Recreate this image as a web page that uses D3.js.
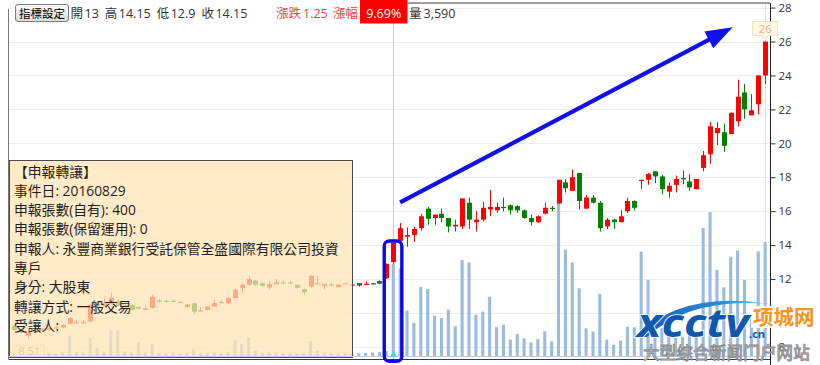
<!DOCTYPE html>
<html>
<head>
<meta charset="utf-8">
<script src="https://cdn.jsdelivr.net/npm/d3@7"></script>
<style>
  body { margin: 0; background: #fff; }
  svg { display: block; }
  text { font-family: "Open Sans", "Noto Sans CJK TC", sans-serif; }
</style>
</head>
<body>
<div id="chart"></div>
<script>
// Data (daily candles, event day = index 55)
const opens = [9.25, 9.0, 8.65, 8.9, 8.98, 9.0, 9.1, 9.15, 9.35, 9.4, 9.4, 9.5, 10.5, 10.4, 10.55, 10.67, 10.45, 10.48, 10.35, 10.18,
  10.3, 10.75, 10.72, 10.72, 10.63, 10.35, 10.58, 10.1, 10.18, 10.38, 10.65, 10.58, 10.88, 11.47, 11.66, 11.9, 11.76, 11.5, 11.7, 11.8,
  11.8, 11.66, 11.41, 11.56, 11.7, 11.6, 11.68, 11.52, 11.7, 11.62, 11.76, 11.7, 11.75, 11.88, 12.05, 13.0, 14.25, 14.5, 14.6, 15.0,
  16.15, 15.6, 15.85, 15.6, 15.1, 15.1, 16.5, 15.35, 15.5, 16.1, 16.05, 16.25, 16.35, 16.3, 16.05, 15.6, 15.35, 15.85, 16.2, 16.45,
  17.7, 17.2, 18.25, 16.15, 16.8, 16.5, 15.1, 15.5, 15.35, 16.0, 16.6, 17.8, 17.85, 18.35, 18.05, 17.15, 17.55, 17.95, 17.75, 17.3,
  18.55, 19.35, 20.6, 20.65, 20.55, 21.3, 23.0, 21.65, 22.3, 24.0]
const highs = [9.3, 9.02, 8.9, 9.05, 9.1, 9.15, 9.2, 9.35, 9.75, 9.6, 9.6, 10.5, 10.7, 10.9, 11.2, 10.8, 10.5, 10.5, 10.4, 10.45,
  11.05, 10.85, 10.8, 10.8, 10.7, 10.55, 10.6, 10.35, 10.4, 10.75, 10.75, 10.9, 11.4, 11.75, 12.15, 11.95, 11.8, 11.85, 12.0, 11.9,
  11.9, 11.7, 11.45, 12.2, 12.2, 11.72, 11.75, 11.7, 11.8, 11.7, 11.76, 11.85, 11.76, 11.92, 12.9, 14.15, 15.3, 15.05, 15.1, 15.85,
  16.25, 15.8, 16.15, 15.6, 15.5, 16.75, 16.8, 16.0, 16.55, 17.25, 16.5, 16.8, 16.4, 16.35, 16.1, 15.8, 15.75, 16.5, 16.3, 17.85,
  17.9, 18.45, 18.25, 16.95, 16.95, 16.6, 15.6, 15.55, 16.05, 16.8, 16.65, 17.85, 18.25, 18.35, 18.15, 17.7, 18.1, 18.4, 18.2, 17.9,
  19.55, 21.25, 21.25, 21.15, 21.8, 23.75, 23.5, 22.9, 24.0, 26.0]
const lows = [8.95, 8.8, 8.51, 8.85, 8.95, 8.95, 9.05, 9.1, 9.3, 9.4, 9.4, 9.45, 10.35, 10.35, 10.5, 10.4, 10.35, 10.15, 10.2, 10.18,
  10.25, 10.6, 10.6, 10.62, 10.6, 10.3, 9.95, 10.1, 10.15, 10.35, 10.55, 10.55, 10.85, 11.2, 11.6, 11.6, 11.55, 11.4, 11.7, 11.7,
  11.7, 11.45, 11.05, 11.5, 11.7, 11.4, 11.55, 11.5, 11.7, 11.6, 11.55, 11.7, 11.7, 11.7, 12.0, 12.9, 13.95, 13.9, 14.2, 14.85,
  15.2, 15.2, 15.35, 14.75, 14.8, 14.95, 14.95, 14.8, 15.4, 15.7, 15.9, 16.0, 15.8, 15.9, 15.55, 15.15, 15.3, 15.8, 16.0, 16.45,
  17.1, 17.2, 16.1, 16.15, 16.45, 14.8, 14.95, 14.95, 15.35, 15.9, 16.05, 17.3, 17.55, 17.65, 17.0, 16.8, 17.1, 17.6, 17.2, 17.28,
  18.35, 18.8, 19.9, 19.5, 20.55, 21.0, 21.45, 21.65, 21.7, 23.5]
const closes = [9.0, 8.85, 8.85, 9.0, 9.03, 9.1, 9.15, 9.3, 9.7, 9.45, 9.45, 10.48, 10.4, 10.6, 10.9, 10.42, 10.4, 10.18, 10.25, 10.28,
  10.95, 10.72, 10.7, 10.7, 10.66, 10.5, 10.08, 10.15, 10.38, 10.58, 10.6, 10.88, 11.37, 11.66, 12.0, 11.66, 11.6, 11.7, 11.8, 11.77,
  11.77, 11.47, 11.21, 12.2, 11.75, 11.7, 11.65, 11.66, 11.75, 11.68, 11.62, 11.72, 11.72, 11.73, 12.9, 14.15, 15.0, 14.6, 14.95, 15.7,
  15.55, 15.8, 15.6, 15.1, 15.2, 16.75, 15.5, 15.5, 16.2, 16.25, 16.25, 16.2, 16.05, 16.05, 15.6, 15.35, 15.7, 16.2, 16.15, 17.85,
  17.35, 18.0, 16.6, 16.8, 16.5, 15.0, 15.5, 15.35, 15.7, 16.6, 16.2, 17.85, 18.2, 18.05, 17.3, 17.5, 17.9, 17.9, 17.4, 17.9,
  19.3, 21.0, 20.9, 19.85, 21.8, 22.75, 22.0, 21.95, 24.0, 26.0]
const volumes = [130, 100, 150, 120, 110, 130, 100, 150, 780, 160, 140, 700, 310, 150, 1010, 990, 170, 140, 530, 130,
  470, 120, 110, 130, 100, 120, 270, 110, 120, 140, 110, 150, 620, 470, 740, 210, 120, 150, 130, 110,
  120, 100, 130, 590, 210, 120, 100, 110, 130, 100, 110, 120, 130, 150, 200, 3590, 3420, 1770, 1290, 2700,
  2610, 1570, 1480, 1810, 1160, 3750, 3650, 1610, 1730, 2310, 1120, 1220, 640, 860, 690, 530, 660, 960, 570, 6000,
  4150, 3650, 2640, 1080, 960, 2420, 640, 440, 600, 1140, 1120, 4070, 2970, 900, 1100, 800, 700, 750, 800, 900,
  4990, 5610, 3360, 2680, 3870, 4110, 2970, 1500, 4080, 4440]

const eventIndex = 55
const yTicks = [8, 10, 12, 14, 16, 18, 20, 22, 24, 26, 28]

const buttonLabel = '指標設定'
const quotePairs = [['開', '13'], ['高', '14.15'], ['低', '12.9'], ['收', '14.15']]
const changeLabel = ['漲跌', '1.25']
const pctLabel = ['漲幅', '9.69%']
const volLabel = ['量', '3,590']

const infoLines = [
  '【申報轉讓】',
  '事件日: 20160829',
  '申報張數(自有): 400',
  '申報張數(保留運用): 0',
  '申報人: 永豐商業銀行受託保管全盛國際有限公司投資',
  '專戶',
  '身分: 大股東',
  '轉讓方式: 一般交易',
  '受讓人:',
]

// Dimensions
const width = 820
const height = 365
const plot = { left: 8.5, top: 3, right: 770, bottom: 359 }

const RED = '#ff0000'
const GREEN = '#008000'

const svg = d3.select('#chart')
  .append('svg')
  .attr('width', width)
  .attr('height', height)
const defs = svg.append('defs')

svg.append('rect').attr('width', width).attr('height', height).attr('fill', '#fff')

// Scales
const idx = d3.range(opens.length)
const xScale = d3.scaleBand()
  .domain(idx)
  .range([11, 768.6])
  .paddingInner(0.28)
  .paddingOuter(0.14)
const cx = (i) => xScale(i) + xScale.bandwidth() / 2

const yScale = d3.scaleLinear().domain([8, 28]).range([346.9, 7.6])
const volScale = d3.scaleLinear().domain([0, 6000]).range([356, 202.2])

// Grid
svg.append('g')
  .selectAll('line')
  .data(yTicks)
  .join('line')
  .attr('x1', plot.left).attr('x2', plot.right)
  .attr('y1', (d) => Math.round(yScale(d)) + 0.5)
  .attr('y2', (d) => Math.round(yScale(d)) + 0.5)
  .attr('stroke', '#ededed')

// Crosshair on event day and marker line on the last day
const ex = Math.round(cx(eventIndex)) + 0.5
svg.append('line')
  .attr('x1', ex).attr('x2', ex)
  .attr('y1', plot.top).attr('y2', plot.bottom)
  .attr('stroke', '#c3c3ee')
const last = opens.length - 1
svg.append('line')
  .attr('x1', Math.round(cx(last)) + 0.5).attr('x2', Math.round(cx(last)) + 0.5)
  .attr('y1', plot.top).attr('y2', plot.bottom)
  .attr('stroke', '#e2e2e2')

// Volume
const vw = xScale.bandwidth() * 0.62
svg.append('g')
  .selectAll('rect')
  .data(idx)
  .join('rect')
  .attr('x', (i) => cx(i) - vw / 2)
  .attr('y', (i) => volScale(volumes[i]))
  .attr('width', vw)
  .attr('height', (i) => volScale(0) - volScale(volumes[i]))
  .attr('fill', '#9bbbdc')

// Candles
const candleColor = (i) => {
  if (closes[i] > opens[i]) return RED
  if (closes[i] < opens[i]) return GREEN
  return i > 0 && closes[i] < closes[i - 1] ? GREEN : RED
}
const candles = svg.append('g')
  .selectAll('g')
  .data(idx)
  .join('g')
candles.append('line')
  .attr('x1', (i) => Math.round(cx(i)) + 0.5)
  .attr('x2', (i) => Math.round(cx(i)) + 0.5)
  .attr('y1', (i) => yScale(highs[i]))
  .attr('y2', (i) => yScale(lows[i]))
  .attr('stroke', candleColor)
candles.append('rect')
  .attr('x', (i) => Math.round(cx(i)) + 0.5 - xScale.bandwidth() / 2)
  .attr('y', (i) => yScale(Math.max(opens[i], closes[i])))
  .attr('width', xScale.bandwidth())
  .attr('height', (i) => Math.max(1.2, Math.abs(yScale(opens[i]) - yScale(closes[i]))))
  .attr('fill', candleColor)

// Low label (sits under the info box)
const lowIdx = d3.minIndex(lows)
const lowG = svg.append('g')
  .attr('transform', `translate(${cx(lowIdx) + 1},${yScale(lows[lowIdx]) + 7})`)
lowG.append('rect')
  .attr('x', -15).attr('y', 0).attr('width', 30).attr('height', 11)
  .attr('fill', '#ffffe6').attr('stroke', '#ddd6b0')
lowG.append('text')
  .attr('x', 0).attr('y', 9.5)
  .attr('text-anchor', 'middle')
  .attr('font-size', 11)
  .attr('fill', '#6d8db0')
  .text(d3.format('.2f')(lows[lowIdx]))

// Info box
const box = svg.append('g')
box.append('rect')
  .attr('x', 9.5).attr('y', 160.5)
  .attr('width', 343).attr('height', 197)
  .attr('fill', '#ffe4b5').attr('fill-opacity', 0.74)
  .attr('stroke', '#4a4a4a')
box.selectAll('text')
  .data(infoLines)
  .join('text')
  .attr('x', 14)
  .attr('y', (d, i) => 176.5 + i * 19.3)
  .attr('font-size', 13.8)
  .attr('fill', '#1e1e1e')
  .text((d) => d)

// Plot frame
const frame = svg.append('g').attr('stroke', '#3a3a3a').attr('fill', 'none')
frame.append('line').attr('x1', plot.left).attr('x2', plot.right).attr('y1', plot.top).attr('y2', plot.top)
frame.append('line').attr('x1', plot.left).attr('x2', plot.left).attr('y1', plot.top).attr('y2', plot.bottom).attr('stroke', '#777')
frame.append('line').attr('x1', plot.left).attr('x2', plot.right).attr('y1', plot.bottom + 0.5).attr('y2', plot.bottom + 0.5)
svg.append('line')
  .attr('x1', plot.left).attr('x2', plot.right)
  .attr('y1', 356.5).attr('y2', 356.5)
  .attr('stroke', '#c9c9ef')

// Right axis
const yAxis = d3.axisRight(yScale).tickValues(yTicks).tickSize(5).tickPadding(3)
const axisG = svg.append('g')
  .attr('transform', `translate(${plot.right + 0.5},0)`)
  .call(yAxis)
axisG.select('.domain').remove()
axisG.selectAll('.tick line').attr('stroke', '#333')
axisG.selectAll('.tick text')
  .attr('font-size', 11.5)
  .attr('fill', '#333')
  .attr('font-family', '"Open Sans", sans-serif')
svg.append('line')
  .attr('x1', plot.right + 0.5).attr('x2', plot.right + 0.5)
  .attr('y1', plot.top).attr('y2', height)
  .attr('stroke', '#222')

// Event marker at bottom
svg.append('path')
  .attr('d', `M${ex - 3.5},357 L${ex},351 L${ex + 3.5},357 Z`)
  .attr('fill', '#3fd6f2')

// High label
const highIdx = d3.maxIndex(highs)
const hy = yScale(highs[highIdx])
const hx = cx(highIdx)
const hiG = svg.append('g').attr('transform', `translate(${hx},${hy})`)
hiG.append('path')
  .attr('d', 'M-12.5,-20 H12.5 V-6 H3 L0,-2 L-3,-6 H-12.5 Z')
  .attr('fill', '#fffbe1').attr('stroke', '#ece3bd')
hiG.append('text')
  .attr('x', 0).attr('y', -9)
  .attr('text-anchor', 'middle')
  .attr('font-size', 11.5)
  .attr('fill', '#f5a3a3')
  .text(highs[highIdx])

// Highlight around event candle
svg.append('rect')
  .attr('x', cx(eventIndex) - 9)
  .attr('y', yScale(highs[eventIndex]) - 1.5)
  .attr('width', 17.6)
  .attr('height', 361.3 - (yScale(highs[eventIndex]) - 1.5))
  .attr('rx', 5)
  .attr('fill', 'none')
  .attr('stroke', '#0a0ae8')
  .attr('stroke-width', 3.4)

// Trend arrow
const a0 = [cx(eventIndex + 1), yScale(16.52)]
const a1 = [cx(104) + 2, yScale(26.84)]
const ang = Math.atan2(a1[1] - a0[1], a1[0] - a0[0])
const headLen = 27
const headHalf = 9.5
const base = [a1[0] - headLen * Math.cos(ang), a1[1] - headLen * Math.sin(ang)]
svg.append('line')
  .attr('x1', a0[0]).attr('y1', a0[1])
  .attr('x2', base[0] + 3 * Math.cos(ang)).attr('y2', base[1] + 3 * Math.sin(ang))
  .attr('stroke', '#1010ea')
  .attr('stroke-width', 4.2)
svg.append('path')
  .attr('d', `M${a1[0]},${a1[1]}
    L${base[0] + headHalf * Math.sin(ang)},${base[1] - headHalf * Math.cos(ang)}
    L${base[0] - headHalf * Math.sin(ang)},${base[1] + headHalf * Math.cos(ang)} Z`)
  .attr('fill', '#1010ea')

// Watermark (site logo over the bottom right corner)
const wm = svg.append('g')
const grad = defs.append('linearGradient').attr('id', 'swoosh')
grad.append('stop').attr('offset', '0%').attr('stop-color', '#1859b0')
grad.append('stop').attr('offset', '65%').attr('stop-color', '#2a8fd8')
grad.append('stop').attr('offset', '100%').attr('stop-color', '#5fe0f8')
wm.append('rect')
  .attr('x', 751).attr('y', 306).attr('width', 68).attr('height', 22)
  .attr('fill', '#fff').attr('fill-opacity', 0.92)
wm.append('path')
  .attr('d', 'M636,337 Q680,290 770,304 Q690,297 647,337 Z')
  .attr('fill', 'url(#swoosh)')
wm.append('text')
  .attr('x', 637).attr('y', 337)
  .attr('font-family', '"Liberation Sans", Arial, sans-serif')
  .attr('font-weight', 'bold').attr('font-style', 'italic')
  .attr('font-size', 40)
  .attr('textLength', 112).attr('lengthAdjust', 'spacingAndGlyphs')
  .attr('fill', '#0f58ad')
  .attr('stroke', '#fff').attr('stroke-width', 1.5).attr('paint-order', 'stroke')
  .text('xcctv')
wm.append('text')
  .attr('x', 749).attr('y', 338)
  .attr('font-family', '"Liberation Sans", Arial, sans-serif')
  .attr('font-weight', 'bold')
  .attr('font-size', 11)
  .attr('fill', '#0f58ad')
  .text('.cn')
wm.append('text')
  .attr('x', 753).attr('y', 325)
  .attr('font-family', '"Noto Sans CJK SC", sans-serif')
  .attr('font-weight', 'bold')
  .attr('font-size', 20.5)
  .attr('fill', '#f7931e')
  .text('项城网')
wm.append('text')
  .attr('x', 643).attr('y', 359)
  .attr('font-family', '"Noto Sans CJK SC", sans-serif')
  .attr('font-size', 16.5)
  .attr('letter-spacing', 0.2)
  .attr('fill', '#ececec')
  .attr('stroke', '#8a8a8a').attr('stroke-width', 0.9)
  .text('大型综合新闻门户网站')

// Header
const head = svg.append('g')
head.append('rect').attr('x', 0).attr('y', 0).attr('width', 360).attr('height', 9).attr('fill', '#fff')
const bgrad = defs.append('linearGradient')
  .attr('id', 'btn').attr('x1', 0).attr('x2', 0).attr('y1', 0).attr('y2', 1)
bgrad.append('stop').attr('offset', '0%').attr('stop-color', '#fbfbfb')
bgrad.append('stop').attr('offset', '100%').attr('stop-color', '#dcdcdc')
head.append('rect')
  .attr('x', 15.5).attr('y', 4.5).attr('width', 53).attr('height', 17)
  .attr('rx', 2.5)
  .attr('fill', 'url(#btn)').attr('stroke', '#7d7d7d')
head.append('text')
  .attr('x', 42).attr('y', 17.5)
  .attr('text-anchor', 'middle')
  .attr('font-size', 11.5)
  .attr('fill', '#000')
  .text(buttonLabel)

const quote = head.append('text')
  .attr('x', 70.5).attr('y', 17.5)
  .attr('font-size', 12.5)
  .attr('fill', '#333')
quotePairs.forEach(([k, v], i) => {
  quote.append('tspan').attr('dx', i === 0 ? 0 : 6).text(k)
  quote.append('tspan').attr('dx', 1.5).text(v)
})

const chg = head.append('text')
  .attr('x', 276).attr('y', 17.5)
  .attr('font-size', 12.5)
  .attr('fill', '#f53d3d')
chg.append('tspan').text(changeLabel[0])
chg.append('tspan').attr('dx', 2).text(changeLabel[1])
head.append('text')
  .attr('x', 333).attr('y', 17.5)
  .attr('font-size', 12.5)
  .attr('fill', '#f53d3d')
  .text(pctLabel[0])
head.append('rect')
  .attr('x', 360).attr('y', 0).attr('width', 47.5).attr('height', 23.5)
  .attr('fill', '#ff0000')
head.append('text')
  .attr('x', 383.7).attr('y', 17.5)
  .attr('text-anchor', 'middle')
  .attr('font-size', 12.5)
  .attr('fill', '#fff')
  .text(pctLabel[1])
const vol = head.append('text')
  .attr('x', 409).attr('y', 17.5)
  .attr('font-size', 12.5)
  .attr('fill', '#333')
vol.append('tspan').text(volLabel[0])
vol.append('tspan').attr('dx', 2).text(volLabel[1])
</script>
</body>
</html>
